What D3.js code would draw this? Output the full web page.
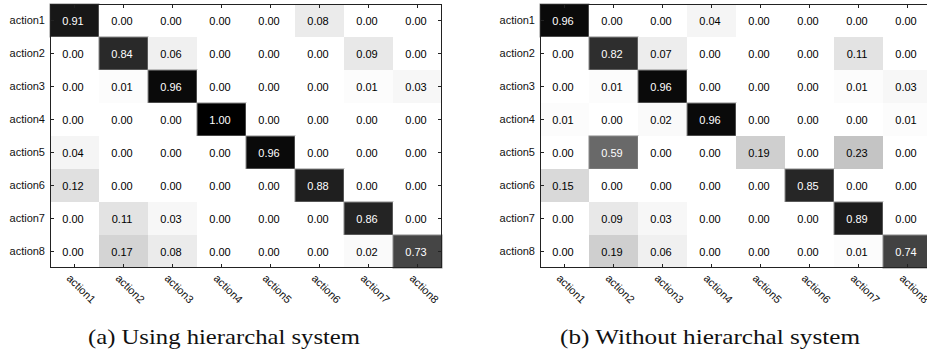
<!DOCTYPE html>
<html>
<head>
<meta charset="utf-8">
<script src="https://cdn.jsdelivr.net/npm/d3@7"></script>
<style>
  html, body { margin: 0; padding: 0; background: #fff; overflow: hidden; }
  svg { display: block; }
</style>
</head>
<body>
<svg id="chart" width="927" height="356"></svg>
<script>
const categories = ["action1","action2","action3","action4","action5","action6","action7","action8"];

const matrixA = [
  [0.91,0.00,0.00,0.00,0.00,0.08,0.00,0.00],
  [0.00,0.84,0.06,0.00,0.00,0.00,0.09,0.00],
  [0.00,0.01,0.96,0.00,0.00,0.00,0.01,0.03],
  [0.00,0.00,0.00,1.00,0.00,0.00,0.00,0.00],
  [0.04,0.00,0.00,0.00,0.96,0.00,0.00,0.00],
  [0.12,0.00,0.00,0.00,0.00,0.88,0.00,0.00],
  [0.00,0.11,0.03,0.00,0.00,0.00,0.86,0.00],
  [0.00,0.17,0.08,0.00,0.00,0.00,0.02,0.73]
];

const matrixB = [
  [0.96,0.00,0.00,0.04,0.00,0.00,0.00,0.00],
  [0.00,0.82,0.07,0.00,0.00,0.00,0.11,0.00],
  [0.00,0.01,0.96,0.00,0.00,0.00,0.01,0.03],
  [0.01,0.00,0.02,0.96,0.00,0.00,0.00,0.01],
  [0.00,0.59,0.00,0.00,0.19,0.00,0.23,0.00],
  [0.15,0.00,0.00,0.00,0.00,0.85,0.00,0.00],
  [0.00,0.09,0.03,0.00,0.00,0.00,0.89,0.00],
  [0.00,0.19,0.06,0.00,0.00,0.00,0.01,0.74]
];

const captions = ["(a)  Using hierarchal system", "(b)  Without hierarchal system"];

const svg = d3.select("#chart");
const fontSans = "'Liberation Sans', Arial, Helvetica, sans-serif";
const gray = d3.scaleLinear().domain([0, 1]).range(["#ffffff", "#000000"]);

function drawPanel(matrix, x0, caption, capX, capW) {
  const top = 4, w = 392, h = 264;
  const x = d3.scaleBand().domain(categories).range([x0, x0 + w]);
  const y = d3.scaleBand().domain(categories).range([top, top + h]);
  const g = svg.append("g");

  const cells = [];
  matrix.forEach((row, i) => row.forEach((v, j) => cells.push({r: categories[i], c: categories[j], v})));

  g.selectAll("rect.cell").data(cells).join("rect")
    .attr("class", "cell")
    .attr("x", d => x(d.c)).attr("y", d => y(d.r))
    .attr("width", x.bandwidth()).attr("height", y.bandwidth())
    .attr("fill", d => gray(d.v))
    .attr("stroke", d => d.v > 0.5 ? "#8a8a8a" : "none")
    .attr("stroke-width", 1);

  g.selectAll("text.val").data(cells).join("text")
    .attr("class", "val")
    .attr("x", d => x(d.c) + x.bandwidth() / 2 - 1.5)
    .attr("y", d => y(d.r) + y.bandwidth() / 2 + 4)
    .attr("text-anchor", "middle")
    .attr("font-family", fontSans).attr("font-size", 11)
    .attr("fill", d => d.v > 0.5 ? "#ffffff" : "#000000")
    .text(d => d.v.toFixed(2));

  // frame
  g.append("rect").attr("x", x0 + 0.5).attr("y", top + 0.5)
    .attr("width", w - 1).attr("height", h - 1)
    .attr("fill", "none").attr("stroke", "#222").attr("stroke-width", 1);

  const left = g.append("g").attr("transform", `translate(${x0},0)`)
    .call(d3.axisLeft(y).tickSize(-4).tickSizeOuter(0).tickPadding(5));
  const right = g.append("g").attr("transform", `translate(${x0 + w},0)`)
    .call(d3.axisRight(y).tickSize(-4).tickSizeOuter(0).tickFormat(""));
  const topAx = g.append("g").attr("transform", `translate(0,${top})`)
    .call(d3.axisTop(x).tickSize(-4).tickSizeOuter(0).tickFormat(""));
  const bottom = g.append("g").attr("transform", `translate(0,${top + h})`)
    .call(d3.axisBottom(x).tickSize(-4).tickSizeOuter(0));

  [left, right, topAx, bottom].forEach(a => {
    a.select(".domain").remove();
    a.selectAll(".tick line").attr("stroke", "#222");
    a.selectAll("text").attr("font-family", fontSans).attr("font-size", 11).attr("fill", "#111");
  });

  bottom.selectAll(".tick text")
    .attr("x", 0).attr("y", 0).attr("dy", 0)
    .attr("text-anchor", "start")
    .attr("transform", "translate(-8.5,11) rotate(45)");

  svg.append("text")
    .attr("x", capX).attr("y", 344)
    .attr("text-anchor", "middle")
    .attr("font-family", "'Liberation Serif', 'Times New Roman', serif")
    .attr("font-size", 22)
    .attr("fill", "#111")
    .attr("textLength", capW)
    .attr("lengthAdjust", "spacingAndGlyphs")
    .text(caption);
}

drawPanel(matrixA, 50, captions[0], 224, 272);
drawPanel(matrixB, 540, captions[1], 710, 300);
</script>
</body>
</html>
